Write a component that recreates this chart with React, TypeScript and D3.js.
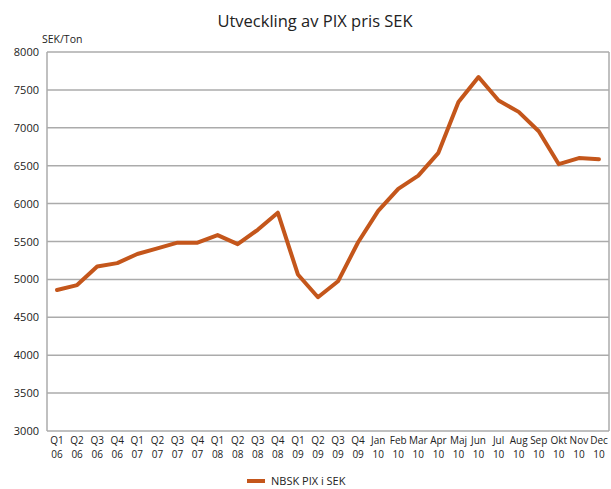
import React from "react";
import * as d3 from "d3";

const quarters = ["Q1","Q2","Q3","Q4","Q1","Q2","Q3","Q4","Q1","Q2","Q3","Q4","Q1","Q2","Q3","Q4","Jan","Feb","Mar","Apr","Maj","Jun","Jul","Aug","Sep","Okt","Nov","Dec"];
const years = ["06","06","06","06","07","07","07","07","08","08","08","08","09","09","09","09","10","10","10","10","10","10","10","10","10","10","10","10"];
const values = [4860,4925,5170,5215,5335,5410,5485,5485,5585,5465,5655,5880,5065,4765,4975,5490,5905,6195,6370,6670,7340,7670,7360,7210,6955,6520,6600,6585];
const yTicks = [3000,3500,4000,4500,5000,5500,6000,6500,7000,7500,8000];

const W = 611, H = 489;
const M = { left: 47, right: 2, top: 52, bottom: 58 };

export default function App() {
  const x = d3.scaleBand<number>().domain(d3.range(values.length)).range([M.left, W - M.right]);
  const y = d3.scaleLinear().domain([3000, 8000]).range([H - M.bottom, M.top]);
  const line = d3.line<number>().x((_, i) => (x(i) as number) + x.bandwidth() / 2).y(d => y(d));
  const font = "'Open Sans', 'DejaVu Sans', sans-serif";
  return (
    <svg width={W} height={H} style={{ position: "absolute", left: 0, top: 0, background: "#fff" }} fontFamily={font}>
      <text x={315} y={27} textAnchor="middle" fontSize={16.5} fill="#222">Utveckling av PIX pris SEK</text>
      <text x={42} y={43} fontSize={10.5} fill="#222">SEK/Ton</text>
      {yTicks.map(t => (
        <g key={t}>
          <line x1={M.left} x2={W - M.right} y1={y(t)} y2={y(t)} stroke="#ababab" strokeWidth={1.5} />
          <text x={39} y={y(t) + 4} textAnchor="end" fontSize={11} fill="#222">{t}</text>
        </g>
      ))}
      <line x1={M.left} x2={M.left} y1={M.top} y2={H - M.bottom} stroke="#ababab" strokeWidth={1.5} />
      <line x1={W - M.right} x2={W - M.right} y1={M.top} y2={H - M.bottom} stroke="#ababab" strokeWidth={1.5} />
      {quarters.map((q, i) => (
        <g key={i}>
          <text x={(x(i) as number) + x.bandwidth() / 2} y={444} textAnchor="middle" fontSize={10} fill="#222">{q}</text>
          <text x={(x(i) as number) + x.bandwidth() / 2} y={458} textAnchor="middle" fontSize={10} fill="#222">{years[i]}</text>
        </g>
      ))}
      <path d={line(values) || ""} fill="none" stroke="#c4561b" strokeWidth={4} strokeLinejoin="round" strokeLinecap="round" />
      <line x1={247} x2={265} y1={481} y2={481} stroke="#c4561b" strokeWidth={4} />
      <text x={271} y={485} fontSize={11} fill="#222">NBSK PIX i SEK</text>
    </svg>
  );
}
